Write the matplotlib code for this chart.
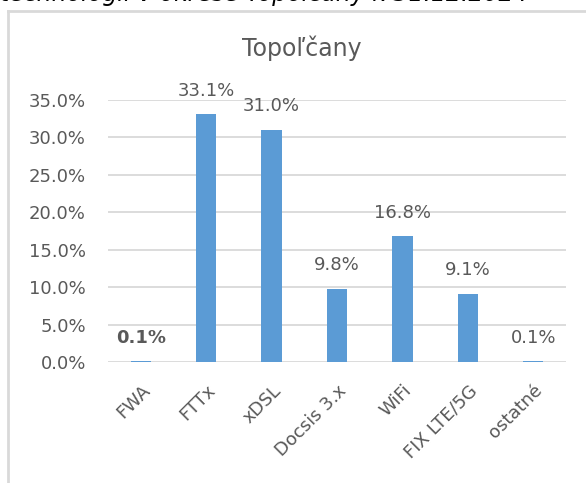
#!/usr/bin/env python3
"""Bar chart: podiel technológií v okrese Topoľčany."""
import matplotlib

matplotlib.use("Agg")
import matplotlib.pyplot as plt
from matplotlib.lines import Line2D

categories = ["FWA", "FTTx", "xDSL", "Docsis 3.x", "WiFi", "FIX LTE/5G", "ostatné"]
shares = [0.1, 33.1, 31.0, 9.8, 16.8, 9.1, 0.1]
bold_labels = [True, False, False, False, False, False, False]
yticks = [0, 5, 10, 15, 20, 25, 30, 35]

TXT = "#595959"
BAR = "#5B9BD5"
GRID = "#D9D9D9"

plt.rcParams["font.family"] = ["DejaVu Sans"]

fig = plt.figure(figsize=(5.86, 4.83), dpi=100)
ax = fig.add_axes([108 / 586, 1 - 362 / 483, 458 / 586, 262 / 483])

x = range(len(categories))
ax.bar(x, shares, width=0.31, color=BAR, zorder=3)
ax.set_xlim(-0.5, len(categories) - 0.5)
ax.set_ylim(0, 35)

for xi, v, b in zip(x, shares, bold_labels):
    ax.annotate(f"{v:.1f}%", (xi, v), xytext=(0, 17), textcoords="offset points",
                ha="center", va="center", fontsize=13, color=TXT,
                fontweight="bold" if b else "normal", clip_on=False)

ax.set_yticks(yticks)
ax.set_yticklabels([f"{t:.1f}%" for t in yticks], fontsize=13, color=TXT)
ax.yaxis.grid(True, color=GRID, lw=1.3, zorder=0)
ax.tick_params(axis="y", length=0, pad=16)
ax.tick_params(axis="x", length=0, pad=14)
ax.set_xticks(list(x))
ax.set_xticklabels(categories, rotation=45, ha="right", va="top",
                   rotation_mode="anchor", fontsize=13, color=TXT)
for s in ax.spines.values():
    s.set_visible(False)

fig.text(302 / 586, 1 - 48 / 483, "Topoľčany", ha="center", va="center",
         fontsize=17, color=TXT)

# chart frame (only left and top edges visible)
fig.add_artist(Line2D([8 / 586, 8 / 586], [0, 1 - 11 / 483], color=GRID, lw=2,
                      transform=fig.transFigure))
fig.add_artist(Line2D([8 / 586, 1], [1 - 11 / 483, 1 - 11 / 483], color=GRID, lw=2,
                      transform=fig.transFigure))

# caption cut off at the top edge
fig.text(0, 1 - 1 / 483, "technológií v okrese Topoľčany k 31.12.2024",
         ha="left", va="baseline", fontsize=17, style="italic", color="black")

fig.savefig("out.png", dpi=100)
